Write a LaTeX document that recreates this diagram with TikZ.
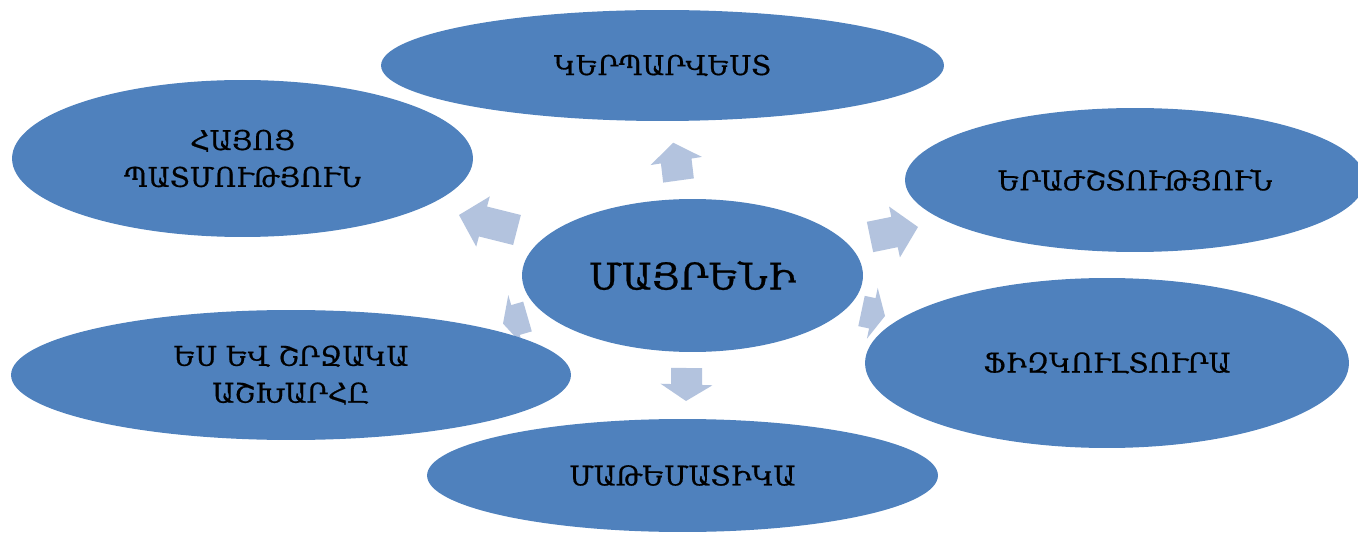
\documentclass[tikz,border=0pt]{standalone}
\usepackage{fontspec}
\setmainfont{DejaVu Serif}[FakeBold=0.6]
\usetikzlibrary{calc,shapes.geometric}
\definecolor{ellblue}{RGB}{79,129,189}
\definecolor{arrblue}{RGB}{179,195,222}
\tikzset{
  bubble/.style={ellipse, fill=ellblue, inner sep=0pt, align=center, text=black, font=\fontsize{15.5}{21}\selectfont},
  blockfill/.style={fill=arrblue},
}
\newcommand{\blockarrow}[3]{%
  \fill[blockfill] ($(#1)!0.31cm!90:(#3)$) -- ($(#2)!0.31cm!90:(#3)$) -- ($(#2)!0.52cm!90:(#3)$) -- (#3) -- ($(#2)!0.52cm!-90:(#3)$) -- ($(#2)!0.31cm!-90:(#3)$) -- ($(#1)!0.31cm!-90:(#3)$) -- cycle;}
\begin{document}
\begin{tikzpicture}[x=0.02cm,y=-0.02cm]
\useasboundingbox (0,0) rectangle (1358,533);
\clip (0,0) rectangle (1358,533);
% arrow coordinates: tail, head base, tip
\coordinate (upT) at (678.5,180.5); \coordinate (upB) at (676.2,161); \coordinate (upP) at (673.3,142.7);
\coordinate (luT) at (517,230);     \coordinate (luB) at (483,221.5); \coordinate (luP) at (459,215);
\coordinate (ruT) at (870,237);     \coordinate (ruB) at (894.5,232); \coordinate (ruP) at (918,227);
\coordinate (rdT) at (861.5,311);   \coordinate (rdB) at (872.3,313.3); \coordinate (rdP) at (885,316);
\coordinate (dnT) at (686.5,368);   \coordinate (dnB) at (686.5,384.5); \coordinate (dnP) at (686,401);
\coordinate (ldT) at (527.5,316.5); \coordinate (ldB) at (515.5,320); \coordinate (ldP) at (503,323.6);
\blockarrow{upT}{upB}{upP}
\blockarrow{luT}{luB}{luP}
\blockarrow{ruT}{ruB}{ruP}
\blockarrow{rdT}{rdB}{rdP}
\blockarrow{dnT}{dnB}{dnP}
\blockarrow{ldT}{ldB}{ldP}
% ellipses
\node[bubble, minimum width=11.26cm, minimum height=2.22cm] (art) at (662.5,65.5) {ԿԵՐՊԱՐՎԵՍՏ};
\node[bubble, minimum width=9.22cm, minimum height=3.14cm] (hist) at (242.5,158.5) {ՀԱՅՈՑ\\ՊԱՏՄՈՒԹՅՈՒՆ};
\node[bubble, minimum width=9.2cm, minimum height=2.88cm] (music) at (1135,180) {ԵՐԱԺՇՏՈՒԹՅՈՒՆ};
\node[bubble, minimum width=9.68cm, minimum height=3.4cm] (sport) at (1107,363) {ՖԻԶԿՈՒԼՏՈՒՐԱ};
\node[bubble, minimum width=10.22cm, minimum height=2.26cm] (math) at (682.5,475.5) {ՄԱԹԵՄԱՏԻԿԱ};
\node[bubble, minimum width=11.2cm, minimum height=2.6cm] (world) at (291,375) {ԵՍ ԵՎ ՇՐՋԱԿԱ\\ԱՇԽԱՐՀԸ};
\node[bubble, minimum width=6.82cm, minimum height=3.06cm, font=\fontsize{21}{26}\selectfont] (main) at (692.5,275.5) {ՄԱՅՐԵՆԻ};
\end{tikzpicture}
\end{document}
